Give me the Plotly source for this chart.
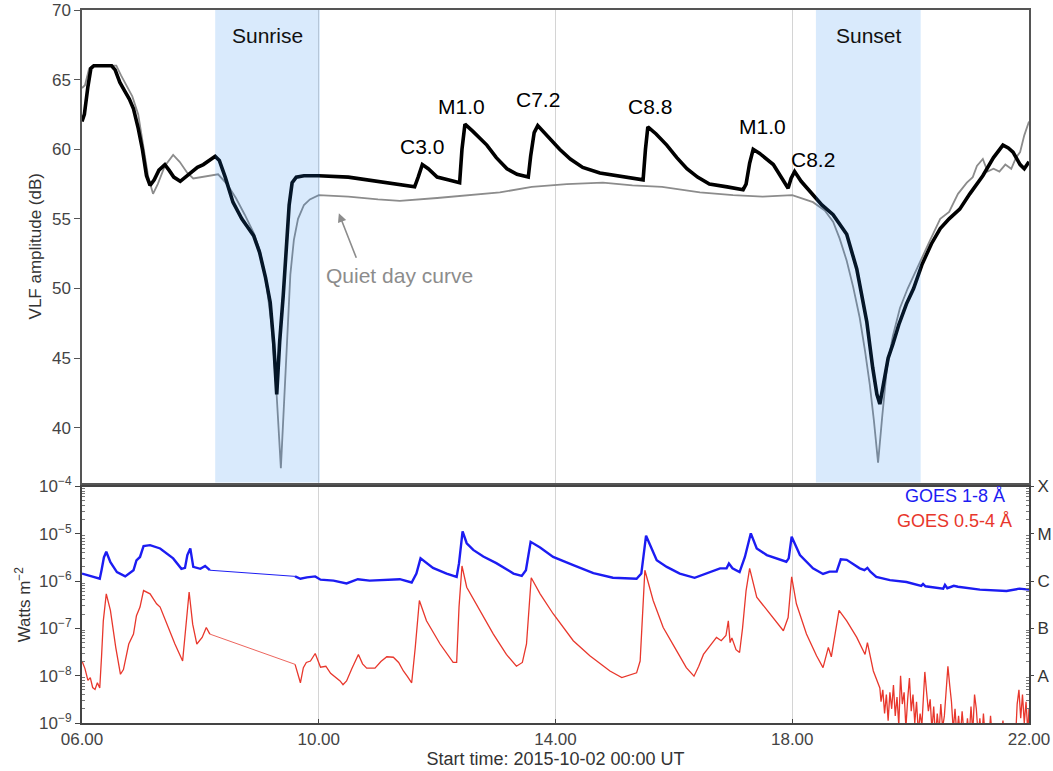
import numpy as np
import plotly.graph_objects as go

# ---------------- VLF amplitude (dB) ----------------
vlf_hours = [6.00, 6.04, 6.10, 6.15, 6.20, 6.35, 6.50, 6.56, 6.64, 6.72, 6.80, 6.87, 6.95, 7.02, 7.09,
             7.15, 7.22, 7.30, 7.40, 7.47, 7.55, 7.66, 7.75, 7.85, 7.95, 8.05, 8.15, 8.25, 8.32, 8.42,
             8.55, 8.70, 8.80, 8.90, 9.00, 9.10, 9.18, 9.24, 9.29, 9.34, 9.40, 9.46, 9.50, 9.55, 9.62,
             9.75, 10.00, 10.50, 11.00, 11.40, 11.62, 11.68, 11.75, 11.85, 12.00, 12.20, 12.38, 12.42,
             12.47, 12.60, 12.84, 13.00, 13.18, 13.35, 13.54, 13.58, 13.64, 13.70, 13.85, 14.07, 14.25,
             14.46, 14.75, 15.03, 15.30, 15.48, 15.52, 15.56, 15.70, 15.88, 16.05, 16.22, 16.40, 16.60,
             16.90, 17.17, 17.22, 17.28, 17.34, 17.45, 17.68, 17.85, 17.93, 17.98, 18.04, 18.15, 18.35,
             18.50, 18.69, 18.92, 19.09, 19.26, 19.36, 19.43, 19.48, 19.55, 19.62, 19.70, 19.80, 19.93,
             20.05, 20.19, 20.35, 20.50, 20.65, 20.83, 21.00, 21.22, 21.40, 21.56, 21.65, 21.73, 21.85,
             21.92, 22.00]
vlf_db = [62.0, 62.5, 64.5, 65.8, 66.0, 66.0, 66.0, 65.7, 64.8, 64.2, 63.6, 62.9, 61.5, 60.0, 58.1,
          57.4, 57.8, 58.5, 58.9, 58.5, 58.0, 57.7, 58.0, 58.4, 58.7, 58.9, 59.2, 59.5, 59.2, 58.0,
          56.2, 55.0, 54.4, 53.8, 52.6, 50.8, 49.0, 46.0, 42.4, 46.2, 49.5, 53.0, 56.0, 57.6, 58.0,
          58.1, 58.1, 58.0, 57.7, 57.4, 57.3, 58.0, 58.9, 58.6, 58.0, 57.8, 57.6, 60.0,
          61.8, 61.3, 60.3, 59.4, 58.6, 58.2, 58.0, 59.5, 61.2, 61.7, 61.0, 60.0, 59.3,
          58.7, 58.3, 58.1, 57.9, 57.8, 60.0, 61.6, 61.1, 60.3, 59.4, 58.6, 58.0, 57.5,
          57.3, 57.1, 57.5, 59.0, 60.0, 59.7, 58.9, 57.8, 57.2, 57.9, 58.4, 57.7, 56.7,
          56.0, 55.3, 53.9, 51.4, 47.6, 44.3, 42.4, 41.7, 43.3, 45.0, 46.0, 47.4, 48.9,
          50.0, 51.7, 53.2, 54.3, 55.0, 55.7, 56.8, 58.1, 59.4, 60.3, 60.1, 59.8, 58.9,
          58.6, 59.1]

quiet_hours = [6.00, 6.05, 6.12, 6.18, 6.40, 6.58, 6.66, 6.75, 6.85, 6.95, 7.05, 7.12, 7.20, 7.28, 7.40,
               7.54, 7.65, 7.78, 7.88, 8.00, 8.15, 8.30, 8.45, 8.60, 8.75, 8.90, 9.00, 9.10, 9.20, 9.28,
               9.36, 9.42, 9.47, 9.52, 9.58, 9.65, 9.75, 9.85, 10.00, 10.50, 11.00, 11.37, 12.00, 12.50,
               13.06, 13.60, 14.19, 14.80, 15.30, 15.80, 16.44, 17.00, 17.50, 18.00, 18.35, 18.55, 18.69,
               18.80, 18.92, 19.03, 19.14, 19.23, 19.31, 19.38, 19.45, 19.52, 19.60, 19.70, 19.82, 19.95,
               20.10, 20.30, 20.50, 20.65, 20.80, 20.95, 21.05, 21.12, 21.22, 21.30, 21.40, 21.50, 21.60,
               21.70, 21.78, 21.85, 21.92, 22.00]
quiet_db = [64.4, 64.6, 65.8, 66.0, 66.0, 66.0, 65.3, 64.6, 63.8, 62.5, 60.0, 58.0, 56.8, 57.5, 58.8,
            59.6, 59.1, 58.3, 57.9, 58.0, 58.1, 58.2, 57.5, 56.5, 55.3, 54.0, 52.8, 50.8, 47.5, 43.0,
            37.1, 42.0, 47.0, 51.0, 53.5, 55.0, 56.0, 56.4, 56.7, 56.6, 56.4, 56.3, 56.5, 56.7,
            56.9, 57.3, 57.5, 57.6, 57.4, 57.3, 56.9, 56.7, 56.6, 56.7, 56.2, 55.6, 54.8,
            53.6, 52.0, 50.1, 47.9, 45.5, 43.1, 40.5, 37.5, 40.8, 44.3, 46.6, 48.6, 50.0,
            51.4, 53.2, 55.0, 55.5, 56.8, 57.6, 58.0, 58.8, 59.3, 58.4, 58.6, 58.4, 58.9,
            58.6, 59.4, 59.8, 61.0, 62.0]

flare_labels = ["C3.0", "M1.0", "C7.2", "C8.8", "M1.0", "C8.2"]
flare_label_hours = [11.74, 12.42, 13.70, 15.60, 17.49, 18.35]
flare_label_db = [60.2, 63.1, 63.6, 63.1, 61.6, 59.3]

sunrise_span = [8.25, 10.02]
sunset_span = [18.40, 20.17]

# ---------------- GOES X-ray flux (log10 W m^-2) ----------------
goes_long_t1 = [6.00, 6.15, 6.30, 6.33, 6.37, 6.41, 6.48, 6.59, 6.73, 6.87, 6.92, 6.98, 7.04, 7.15, 7.32,
                7.54, 7.68, 7.74, 7.78, 7.83, 7.88, 8.00, 8.08, 8.16]
goes_long_v1 = [-5.84, -5.90, -5.95, -5.77, -5.50, -5.38, -5.60, -5.81, -5.90, -5.77, -5.56, -5.49, -5.26,
                -5.24, -5.31, -5.52, -5.74, -5.72, -5.45, -5.31, -5.70, -5.74, -5.68, -5.77]
goes_long_t2 = [9.60, 9.69, 9.80, 9.94, 10.03, 10.25, 10.47, 10.66, 10.86, 11.09, 11.37, 11.57, 11.65, 11.72,
                11.82, 11.93, 12.16, 12.33, 12.37, 12.43, 12.50, 12.61, 12.78, 13.00, 13.29, 13.43, 13.50,
                13.58, 13.74, 13.96, 14.30, 14.64, 14.97, 15.37, 15.45, 15.53, 15.60, 15.71, 15.88, 16.10,
                16.35, 16.55, 16.78, 16.89, 16.93, 16.99, 17.11, 17.20, 17.30, 17.40, 17.57, 17.90, 17.94,
                17.99, 18.13, 18.35, 18.52, 18.63, 18.75, 18.82, 18.92, 19.14, 19.22, 19.27, 19.32, 19.42,
                19.65, 19.93, 20.18, 20.21, 20.25, 20.55, 20.58, 20.62, 20.73, 20.80, 21.17, 21.62, 21.84,
                22.00]
goes_long_v2 = [-5.90, -5.95, -5.92, -5.90, -5.97, -5.99, -6.05, -5.96, -5.99, -5.97, -5.96, -6.03, -5.84,
                -5.52, -5.62, -5.72, -5.84, -5.91, -5.62, -4.95, -5.20, -5.34, -5.48, -5.62, -5.84, -5.89,
                -5.77, -5.17, -5.29, -5.49, -5.66, -5.83, -5.93, -5.95, -5.84, -5.04, -5.24, -5.56, -5.70,
                -5.84, -5.93, -5.84, -5.73, -5.73, -5.63, -5.73, -5.81, -5.49, -4.99, -5.31, -5.45, -5.59,
                -5.52, -5.06, -5.45, -5.73, -5.85, -5.80, -5.80, -5.54, -5.55, -5.73, -5.77, -5.72, -5.80,
                -5.91, -5.98, -6.02, -6.10, -6.06, -6.11, -6.16, -6.08, -6.15, -6.10, -6.12, -6.18, -6.21,
                -6.16, -6.18]

goes_short_t1 = [6.00, 6.05, 6.10, 6.14, 6.18, 6.22, 6.26, 6.30, 6.33, 6.36, 6.41, 6.48, 6.57, 6.65, 6.70,
                 6.75, 6.79, 6.87, 6.92, 6.98, 7.04, 7.15, 7.26, 7.32, 7.43, 7.57, 7.70, 7.74, 7.81, 7.87,
                 7.94, 8.03, 8.10, 8.16]
goes_short_v1 = [-7.69, -7.85, -8.10, -8.04, -8.25, -8.29, -8.15, -8.26, -7.60, -6.84, -6.27, -6.62, -7.40,
                 -7.97, -7.87, -7.55, -7.33, -7.12, -6.73, -6.55, -6.20, -6.27, -6.48, -6.55, -6.91, -7.33,
                 -7.69, -7.19, -6.23, -6.91, -7.33, -7.19, -6.98, -7.12]
goes_short_t2 = [9.60, 9.65, 9.69, 9.74, 9.79, 9.86, 9.94, 10.03, 10.12, 10.20, 10.30, 10.36, 10.41, 10.47,
                 10.56, 10.67, 10.74, 10.81, 10.95, 11.05, 11.15, 11.26, 11.35, 11.43, 11.50, 11.57, 11.63,
                 11.70, 11.82, 12.05, 12.27, 12.33, 12.37, 12.42, 12.50, 12.72, 12.95, 13.17, 13.34, 13.44,
                 13.51, 13.59, 13.74, 13.96, 14.30, 14.58, 14.92, 15.12, 15.25, 15.37, 15.43, 15.51, 15.65,
                 15.82, 16.05, 16.21, 16.34, 16.42, 16.50, 16.72, 16.80, 16.88, 16.92, 16.95, 16.98, 17.05,
                 17.11, 17.16, 17.22, 17.28, 17.40, 17.68, 17.85, 17.93, 17.99, 18.07, 18.24, 18.41, 18.52,
                 18.61, 18.66, 18.79, 18.92, 19.09, 19.23, 19.27, 19.37, 19.48,
                 19.50, 19.53, 19.56, 19.59, 19.62, 19.65, 19.68, 19.71, 19.74, 19.77, 19.80, 19.83, 19.86,
                 19.89, 19.92, 19.95, 19.98, 20.01, 20.04, 20.07, 20.10, 20.13, 20.16, 20.19, 20.22, 20.24,
                 20.27, 20.30, 20.33, 20.36, 20.39, 20.42, 20.45, 20.48, 20.51, 20.54, 20.57, 20.60, 20.63,
                 20.66, 20.69, 20.72, 20.75, 20.78, 20.81, 20.84, 20.87, 20.90, 20.93, 20.96, 20.99, 21.02,
                 21.05, 21.08, 21.11, 21.14, 21.17, 21.20, 21.23, 21.26, 21.29, 21.32, 21.35, 21.38, 21.41,
                 21.44, 21.47, 21.50, 21.53, 21.56, 21.59, 21.62, 21.65, 21.68, 21.71, 21.74, 21.77, 21.80,
                 21.83, 21.86, 21.89, 21.92, 21.95, 21.98, 22.00]
goes_short_v2 = [-7.76, -7.95, -8.15, -7.83, -7.72, -7.69, -7.53, -7.82, -7.80, -7.95, -8.04, -8.11, -8.19,
                 -8.11, -7.85, -7.55, -7.75, -7.84, -7.84, -7.70, -7.60, -7.61, -7.72, -7.90, -8.02, -8.15,
                 -7.41, -6.41, -6.84, -7.33, -7.72, -7.72, -6.55, -5.68, -6.13, -6.62, -7.12, -7.55, -7.80,
                 -7.72, -7.33, -5.93, -6.27, -6.69, -7.26, -7.58, -7.90, -8.04, -7.98, -7.94, -7.69, -5.77,
                 -6.41, -6.98, -7.48, -7.83, -8.01, -7.80, -7.55, -7.19, -7.26, -7.15, -6.84, -7.30, -7.20,
                 -7.45, -7.51, -7.00, -6.20, -5.73, -6.34, -6.77, -7.05, -6.77, -5.91, -6.48, -7.12, -7.58,
                 -7.83, -7.40, -7.60, -6.62, -6.84, -7.19, -7.55, -7.30, -7.90, -8.26,
                 -8.55, -8.30, -8.80, -8.40, -8.95, -8.35, -8.70, -8.20, -8.85, -8.45, -9.05, -8.00, -8.60,
                 -8.35, -9.10, -8.50, -8.05, -8.75, -8.40, -9.00, -8.55, -9.20, -8.80, -9.05, -8.40, -7.92,
                 -8.35, -8.75, -8.50, -9.15, -8.65, -9.30, -8.80, -9.20, -8.60, -9.10, -8.85, -8.30, -7.80,
                 -8.20, -8.55, -9.15, -8.70, -9.25, -8.85, -9.30, -8.75, -9.20, -9.35, -8.90, -9.30, -8.65,
                 -9.20, -8.40, -8.70, -9.25, -8.90, -9.40, -8.80, -9.30, -9.10, -9.40, -8.85, -9.30, -9.20,
                 -9.45, -9.00, -9.40, -9.30, -8.95, -9.40, -9.35, -9.45, -9.20, -9.40, -9.10, -9.40, -8.60,
                 -8.30, -8.90, -8.40, -9.00, -8.55, -9.20, -8.70]

x_tick_vals = [6, 10, 14, 18, 22]
x_tick_text = ["06.00", "10.00", "14.00", "18.00", "22.00"]
flux_exponents = [-9, -8, -7, -6, -5, -4]
goes_classes = ["A", "B", "C", "M", "X"]
goes_class_exponents = [-8, -7, -6, -5, -4]

# ---------------- figure ----------------
FONT = "Liberation Sans, Arial, Helvetica, sans-serif"
BLUE = "#1c1cf2"
RED = "#e8372c"
W, H = 1053, 771
ML, MR, MT, MB = 82, 24, 10, 48
plot_h = H - MT - MB
top_dom = [(723 - 482.5) / plot_h, 1.0]
bot_dom = [0.0, (723 - 486.5) / plot_h]

fig = go.Figure()

fig.add_trace(go.Scatter(x=quiet_hours, y=quiet_db, mode="lines", xaxis="x", yaxis="y",
                         line=dict(color="#8c8c8c", width=1.8), hoverinfo="skip", showlegend=False))
fig.add_trace(go.Scatter(x=vlf_hours, y=vlf_db, mode="lines", xaxis="x", yaxis="y",
                         line=dict(color="#000000", width=3.6), hoverinfo="skip", showlegend=False))


def flux(v):
    return list(np.power(10.0, np.array(v)))


# data gaps: thin connectors
fig.add_trace(go.Scatter(x=[goes_long_t1[-1], goes_long_t2[0]], y=flux([goes_long_v1[-1], goes_long_v2[0]]),
                         mode="lines", xaxis="x2", yaxis="y2", line=dict(color=BLUE, width=1),
                         hoverinfo="skip", showlegend=False))
fig.add_trace(go.Scatter(x=[goes_short_t1[-1], goes_short_t2[0]], y=flux([goes_short_v1[-1], goes_short_v2[0]]),
                         mode="lines", xaxis="x2", yaxis="y2", line=dict(color=RED, width=0.9),
                         opacity=0.85, hoverinfo="skip", showlegend=False))
for t, v in [(goes_short_t1, goes_short_v1), (goes_short_t2, goes_short_v2)]:
    fig.add_trace(go.Scatter(x=t, y=flux(v), mode="lines", xaxis="x2", yaxis="y2",
                             line=dict(color=RED, width=1.3), hoverinfo="skip", showlegend=False))
for t, v in [(goes_long_t1, goes_long_v1), (goes_long_t2, goes_long_v2)]:
    fig.add_trace(go.Scatter(x=t, y=flux(v), mode="lines", xaxis="x2", yaxis="y2",
                             line=dict(color=BLUE, width=2.4), hoverinfo="skip", showlegend=False))
# carrier trace for the right-hand GOES class axis
fig.add_trace(go.Scatter(x=[goes_long_t1[0]], y=flux([goes_long_v1[0]]), mode="lines", xaxis="x2", yaxis="y3",
                         line=dict(color=BLUE, width=0), hoverinfo="skip", showlegend=False))

minor_vals = [k * 10.0 ** e for e in range(-9, -4) for k in range(2, 10)]
flux_tick_text = ["10<sup>\u2212%d</sup>" % (-e) for e in flux_exponents]

axis_common = dict(showline=True, mirror=True, zeroline=False, automargin=False)

shapes = []
for span in (sunrise_span, sunset_span):
    shapes.append(dict(type="rect", xref="x", yref="y domain", x0=span[0], x1=span[1], y0=0, y1=1,
                       fillcolor="rgba(30,130,240,0.17)", line=dict(width=0), layer="above"))

annotations = [
    dict(x=9.14, y=68.2, xref="x", yref="y", text="Sunrise",
         showarrow=False, font=dict(size=21, color="#111")),
    dict(x=19.30, y=68.2, xref="x", yref="y", text="Sunset",
         showarrow=False, font=dict(size=21, color="#111")),
    dict(x=10.34, y=55.4, xref="x", yref="y", ax=18, ay=46, text="", showarrow=True,
         arrowhead=2, arrowsize=1.1, arrowwidth=1.6, arrowcolor="#8c8c8c"),
    dict(x=11.37, y=50.9, xref="x", yref="y", text="Quiet day curve", showarrow=False,
         font=dict(size=21, color="#8c8c8c")),
    dict(x=1.0 - (1029 - 1007) / (W - ML - MR), y=(723 - 508) / plot_h, xref="paper", yref="paper",
         xanchor="right", text="GOES 1-8 \u00c5", showarrow=False, font=dict(size=18, color=BLUE)),
    dict(x=1.0 - (1029 - 1014) / (W - ML - MR), y=(723 - 533) / plot_h, xref="paper", yref="paper",
         xanchor="right", text="GOES 0.5-4 \u00c5", showarrow=False, font=dict(size=18, color=RED)),
]
for lab, hx, dv in zip(flare_labels, flare_label_hours, flare_label_db):
    annotations.append(dict(x=hx, y=dv, xref="x", yref="y", text=lab, showarrow=False,
                            font=dict(size=21, color="#000")))

fig.update_layout(
    width=W, height=H, template="none",
    margin=dict(l=ML, r=MR, t=MT, b=MB),
    paper_bgcolor="white", plot_bgcolor="white",
    font=dict(family=FONT, size=15, color="#444"),
    showlegend=False,
    xaxis=dict(axis_common, anchor="y", domain=[0, 1], range=[6, 22], tickvals=x_tick_vals,
               showticklabels=False, ticks="", showgrid=True, gridcolor="#d4d4d4", gridwidth=1,
               linecolor="#555", linewidth=1.5),
    yaxis=dict(axis_common, anchor="x", domain=top_dom, range=[36.07, 70.001],
               tickvals=[40, 45, 50, 55, 60, 65, 70], ticks="outside", ticklen=6, tickcolor="#555",
               showgrid=False, linecolor="#555", linewidth=1.5, ticklabeloverflow="allow",
               title=dict(text="VLF amplitude (dB)", font=dict(size=17, color="#333"), standoff=6),
               tickfont=dict(size=17, color="#444")),
    xaxis2=dict(axis_common, anchor="y2", domain=[0, 1], range=[6, 22], tickvals=x_tick_vals,
                ticktext=x_tick_text, ticks="inside", ticklen=4, tickcolor="#444",
                showgrid=True, gridcolor="#d4d4d4", gridwidth=1, linecolor="#444", linewidth=2,
                tickfont=dict(size=17, color="#444"), ticklabeloverflow="allow",
                title=dict(text="Start time: 2015-10-02 00:00 UT", font=dict(size=18, color="#333"),
                           standoff=4)),
    yaxis2=dict(axis_common, anchor="x2", domain=bot_dom, type="log", range=[-9, -4],
                tickvals=[10.0 ** e for e in flux_exponents], ticktext=flux_tick_text,
                ticks="outside", ticklen=5, tickcolor="#444", showgrid=False,
                linecolor="#444", linewidth=2, tickfont=dict(size=17, color="#444"),
                ticklabeloverflow="allow",
                minor=dict(tickvals=minor_vals, ticks="inside", ticklen=3, tickcolor="#777",
                           showgrid=False),
                title=dict(text="Watts m<sup>\u22122</sup>", font=dict(size=17, color="#333"), standoff=4)),
    yaxis3=dict(anchor="x2", overlaying="y2", side="right", type="log", range=[-9, -4],
                tickvals=[10.0 ** e for e in goes_class_exponents], ticktext=goes_classes,
                ticks="outside", ticklen=4, tickcolor="#444", showgrid=False, showline=False,
                zeroline=False, automargin=False, tickfont=dict(size=17, color="#333"),
                ticklabeloverflow="allow",
                minor=dict(tickvals=minor_vals, ticks="inside", ticklen=3, tickcolor="#777",
                           showgrid=False)),
    shapes=shapes,
    annotations=annotations,
)

fig.write_html("out.html")
